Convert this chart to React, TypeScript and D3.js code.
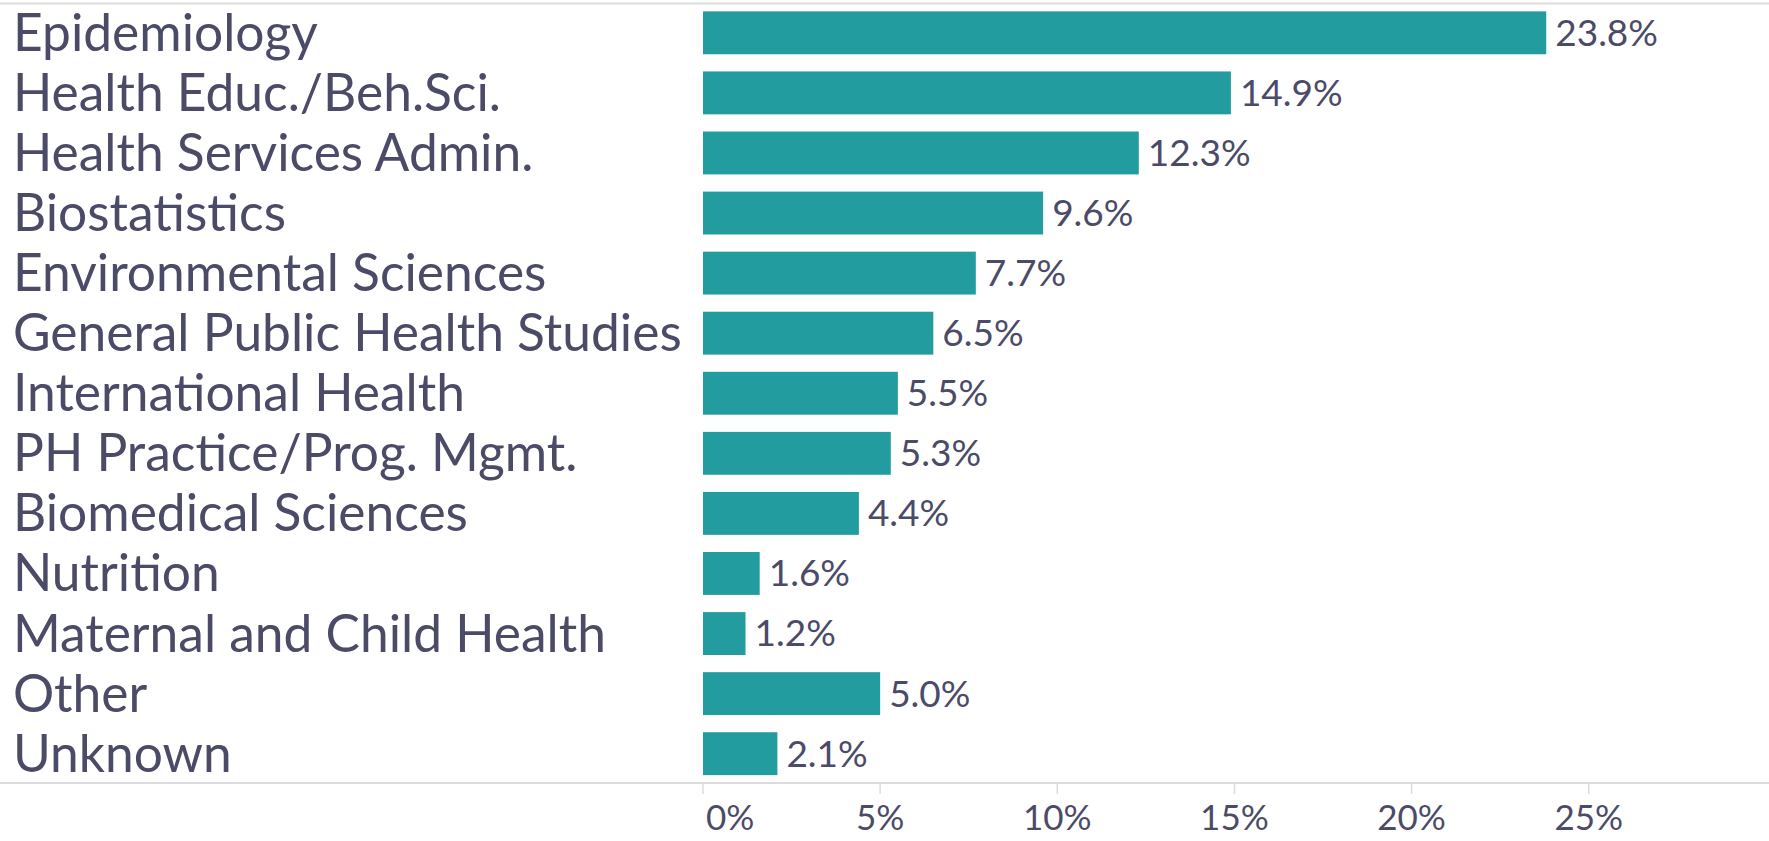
import { useMemo } from "react";
import * as d3 from "d3";

const categories = [
  "Epidemiology",
  "Health Educ./Beh.Sci.",
  "Health Services Admin.",
  "Biostatistics",
  "Environmental Sciences",
  "General Public Health Studies",
  "International Health",
  "PH Practice/Prog. Mgmt.",
  "Biomedical Sciences",
  "Nutrition",
  "Maternal and Child Health",
  "Other",
  "Unknown",
];
const shares = [23.8, 14.9, 12.3, 9.6, 7.7, 6.5, 5.5, 5.3, 4.4, 1.6, 1.2, 5.0, 2.1];
const xTicks = [0, 5, 10, 15, 20, 25];

const W = 1769;
const H = 841;
const TEXT = "#4b4b68";
const BAR = "#239c9f";
const RULE = "#dcdcdc";
const FONT = "Lato, 'Noto Sans', sans-serif";

export default function App() {
  const plotLeft = 703;
  const topRule = 3.5;
  const axisY = 783;

  // 1% ~ 35.4px in the reference
  const x = useMemo(() => d3.scaleLinear().domain([0, 30]).range([plotLeft, plotLeft + 30 * 35.43]), []);
  const y = useMemo(
    () => d3.scaleBand<string>().domain(categories).range([topRule, axisY]).paddingInner(0.286).paddingOuter(0.131),
    [],
  );

  return (
    <svg width={W} height={H} style={{ position: "fixed", left: 0, top: 0, background: "#fff" }}>
      <line x1={0} x2={W} y1={topRule} y2={topRule} stroke={RULE} strokeWidth={2} />
      <line x1={0} x2={W} y1={axisY} y2={axisY} stroke={RULE} strokeWidth={2} />
      {categories.map((c, i) => {
        const yc = y(c)! + y.bandwidth() / 2;
        return (
          <g key={c}>
            <text x={13} y={yc} dy="0.35em" fill={TEXT} fontSize={51.5} fontFamily={FONT}>
              {c}
            </text>
            <rect x={x(0)} y={y(c)} width={x(shares[i]) - x(0)} height={y.bandwidth()} fill={BAR} />
            <text x={x(shares[i]) + 9} y={yc} dy="0.35em" fill={TEXT} fontSize={37} fontFamily={FONT}>
              {shares[i].toFixed(1)}%
            </text>
          </g>
        );
      })}
      {xTicks.map((t, i) => (
        <g key={t}>
          <line x1={x(t)} x2={x(t)} y1={axisY + 1} y2={axisY + 11} stroke={RULE} strokeWidth={1.5} />
          <text
            x={i === 0 ? x(t) + 3 : x(t)}
            y={818}
            dy="0.35em"
            textAnchor={i === 0 ? "start" : "middle"}
            fill={TEXT}
            fontSize={35}
            fontFamily={FONT}
          >
            {t}%
          </text>
        </g>
      ))}
    </svg>
  );
}
